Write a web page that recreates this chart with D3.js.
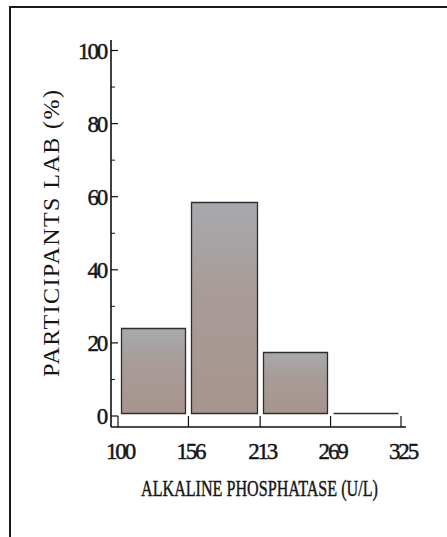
<!DOCTYPE html>
<html>
<head>
<meta charset="utf-8">
<script src="https://cdn.jsdelivr.net/npm/d3@7"></script>
<style>
  html, body { margin: 0; padding: 0; background: #fff; }
  svg { display: block; }
  text { font-family: "Liberation Serif", "DejaVu Serif", serif; fill: #151515; stroke: #151515; stroke-width: 0.45px; }
  text.ytitle { stroke: none; }
</style>
</head>
<body>
<script>
// ---- data ----
const binEdges = [100, 156, 213, 269, 325];
const percents = [24, 58.5, 17.5, 0.8];
const xTickLabels = ["100", "156", "213", "269", "325"];
const yTickValues = [0, 20, 40, 60, 80, 100];
const yMinorValues = [10, 30, 50, 70, 90];
const xTitle = "ALKALINE PHOSPHATASE (U/L)";
const yTitle = "PARTICIPANTS LAB (%)";

const W = 447, H = 537;
const svg = d3.select("body").append("svg").attr("width", W).attr("height", H);

// frame (left & top lines)
svg.append("path")
  .attr("d", d3.line()([[10, H], [10, 7], [W, 7]]))
  .attr("fill", "none").attr("stroke", "#1a1a1a").attr("stroke-width", 2);

const x = d3.scaleLinear().domain([100, 325]).range([118, 401]);
const y = d3.scaleLinear().domain([0, 100]).range([416, 50.5]);
const axisX0 = 111, axisY0 = 427;

// gradient for bars
const defs = svg.append("defs");
const grad = defs.append("linearGradient").attr("id", "barGrad")
  .attr("x1", 0).attr("y1", 0).attr("x2", 0).attr("y2", 1);
grad.append("stop").attr("offset", "0").attr("stop-color", "#a7a9ae");
grad.append("stop").attr("offset", "0.4").attr("stop-color", "#a89c98");
grad.append("stop").attr("offset", "1").attr("stop-color", "#a7948e");

// bars (as paths so a near-zero bar still shows its outline)
const bars = percents.map((v, i) => ({ lo: binEdges[i], hi: binEdges[i + 1], v }));
svg.append("g").selectAll("path").data(bars).join("path")
  .attr("d", d => {
    const x0 = Math.round(x(d.lo) + 2.5) + 0.5, x1 = Math.round(x(d.hi) - 2.5) - 0.5;
    const yb = Math.round(y(0) - 3) + 0.5, yt = Math.min(Math.round(y(d.v)) + 0.5, yb);
    return `M${x0},${yb}V${yt}H${x1}V${yb}Z`;
  })
  .attr("fill", "url(#barGrad)")
  .attr("stroke", "#2e2e2e").attr("stroke-width", 1.3);

// y axis
const yg = svg.append("g");
yg.append("line").attr("x1", axisX0).attr("x2", axisX0).attr("y1", 40).attr("y2", axisY0)
  .attr("stroke", "#111").attr("stroke-width", 1.6);
yg.selectAll("line.major").data(yTickValues).join("line").attr("class", "major")
  .attr("x1", axisX0).attr("x2", axisX0 + 7)
  .attr("y1", d => y(d)).attr("y2", d => y(d))
  .attr("stroke", "#111").attr("stroke-width", 1.2);
yg.selectAll("line.minor").data(yMinorValues).join("line").attr("class", "minor")
  .attr("x1", axisX0).attr("x2", axisX0 + 4)
  .attr("y1", d => y(d)).attr("y2", d => y(d))
  .attr("stroke", "#111").attr("stroke-width", 1);
yg.selectAll("text").data(yTickValues).join("text")
  .attr("x", 106).attr("y", d => y(d)).attr("dy", "0.35em")
  .attr("text-anchor", "end")
  .attr("font-size", 23).attr("letter-spacing", "-2.2px")
  .text(d => d);

// x axis
const xg = svg.append("g");
xg.append("line").attr("x1", axisX0).attr("x2", 406).attr("y1", axisY0).attr("y2", axisY0)
  .attr("stroke", "#111").attr("stroke-width", 1.6);
xg.selectAll("line.tick").data(binEdges).join("line").attr("class", "tick")
  .attr("x1", d => x(d)).attr("x2", d => x(d))
  .attr("y1", axisY0).attr("y2", y(0))
  .attr("stroke", "#111").attr("stroke-width", 1.2);
xg.selectAll("text").data(binEdges).join("text")
  .attr("x", d => x(d) + 2).attr("y", 459)
  .attr("text-anchor", "middle")
  .attr("font-size", 23).attr("letter-spacing", "-2.2px")
  .text((d, i) => xTickLabels[i]);

// x title: condensed by horizontal scaling to the reference width
const xt = svg.append("text")
  .attr("x", 0).attr("y", 0)
  .attr("font-size", 24)
  .text(xTitle);
const natural = xt.node().getComputedTextLength();
xt.attr("transform", `translate(141,496) scale(${237 / natural},1)`);

// y title
svg.append("text").attr("class", "ytitle")
  .attr("transform", "translate(59,377) rotate(-90)")
  .attr("x", 0).attr("y", 0)
  .attr("font-size", 24)
  .attr("textLength", 287).attr("lengthAdjust", "spacing")
  .text(yTitle);
</script>
</body>
</html>
